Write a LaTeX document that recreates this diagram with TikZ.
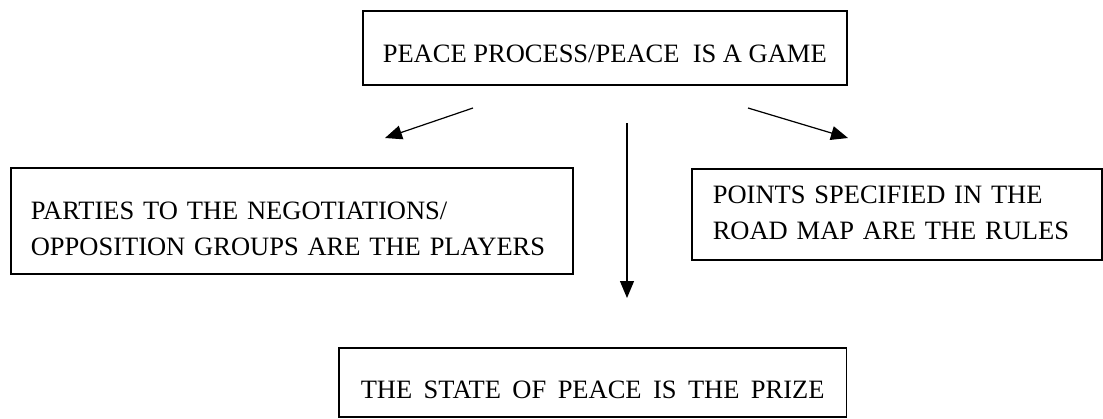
\documentclass[tikz,border=0pt]{standalone}
\usepackage{fontspec}
\setmainfont{Liberation Serif}
\usetikzlibrary{arrows.meta, positioning}

\tikzset{
  box/.style={draw, line width=0.8pt, inner ysep=0pt, inner xsep=10pt, anchor=north west,
    font=\fontsize{13.25pt}{18pt}\selectfont},
  flow/.style={-{Triangle[length=8.5pt,width=7pt]}, line width=0.6pt}
}

\begin{document}
\begin{tikzpicture}[x=0.5pt, y=-0.5pt]
\useasboundingbox (0,0) rectangle (1103,418);

% The metaphor
\node[box, text height=26pt, text depth=11pt] (game) at (362,10) {PEACE PROCESS/PEACE\ \ IS A GAME};

% Players, rules and prize
\node[box, align=left, text width=261pt, text height=26pt, text depth=27pt] (players) at (10,167)
  {PARTIES TO THE NEGOTIATIONS/\\OPPOSITION GROUPS ARE THE PLAYERS};
\node[box, align=left, inner xsep=10.5pt, text width=184pt, text height=17.5pt, text depth=28pt] (rules) at (691,168)
  {POINTS SPECIFIED IN THE\\ROAD MAP ARE THE RULES};
\node[box, inner xsep=11pt, text height=25.5pt, text depth=9pt] (prize) at (338,347)
  {\spaceskip=0.43em\relax THE STATE OF PEACE IS THE PRIZE};

% Arrow ends
\coordinate (game-l) at (473,108);
\coordinate (players-t) at (385,138);
\coordinate (game-r) at (748,108);
\coordinate (rules-t) at (848,138);
\coordinate (game-m) at (627,123);
\coordinate (prize-t) at (627,298);

\draw[flow] (game-l) -- (players-t);
\draw[flow] (game-r) -- (rules-t);
\draw[flow] (game-m) -- (prize-t);
\end{tikzpicture}
\end{document}
